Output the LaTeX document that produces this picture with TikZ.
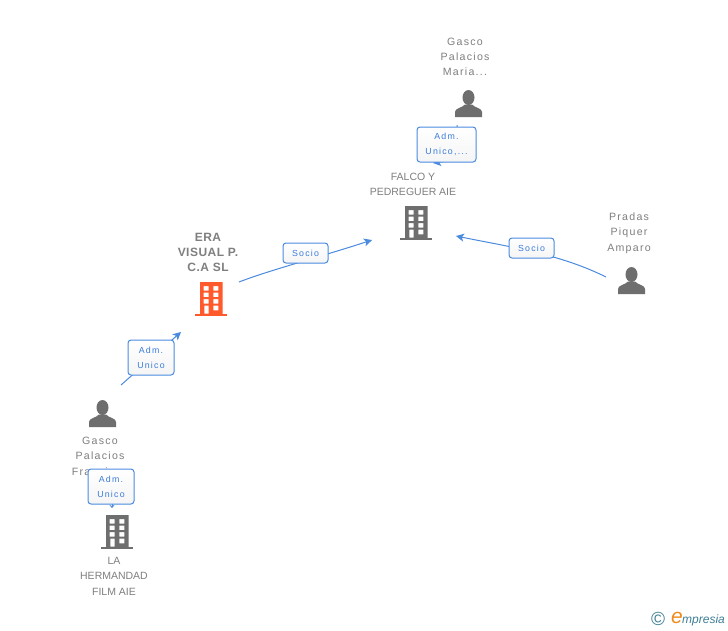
\documentclass[tikz,border=0pt]{standalone}
\usepackage{fontspec}
\setmainfont{Liberation Sans}
\newfontfamily\spacedfont[LetterSpace=12]{Liberation Sans}
\newfontfamily\boxfont[LetterSpace=14]{Liberation Sans}
\newfontfamily\strongfont[LetterSpace=4]{Liberation Sans Bold}
\usetikzlibrary{arrows.meta}
\definecolor{txtgrey}{HTML}{7F7F7F}
\definecolor{icongrey}{HTML}{6E6E6E}
\definecolor{iconorange}{HTML}{FF5A2B}
\definecolor{linkblue}{HTML}{4A8BE0}
\definecolor{labelblue}{HTML}{3A7BDC}
\definecolor{logoteal}{HTML}{3F7F96}
\definecolor{logoorange}{HTML}{F08A1D}
\tikzset{
  x=1pt,y=-1pt,
  nametext/.style={text=txtgrey,align=center,inner sep=0pt,font=\fontsize{10.6}{15.2}\selectfont\spacedfont},
  capstext/.style={text=txtgrey,align=center,inner sep=0pt,font=\fontsize{10.5}{15.2}\selectfont},
  boldtext/.style={text=txtgrey,align=center,inner sep=0pt,font=\fontsize{12}{15.2}\selectfont\strongfont},
  conn/.style={draw=linkblue,line width=1pt,-{Stealth[length=8pt,width=8pt,inset=2pt]}},
  smallconn/.style={draw=linkblue,line width=1pt,-{Stealth[length=3pt,width=5pt]}},
  linkbox/.style={draw=linkblue,line width=1pt,rounded corners=3pt,top color=white,bottom color=white!96!black,
    text=labelblue,align=center,inner sep=0pt,font=\fontsize{8.8}{15}\selectfont\boxfont},
  pics/building/.style={code={
    \fill[#1] (0,31.5) rectangle (32,34);
    \fill[#1,even odd rule] (5,0) rectangle (27.5,32)
      (8.7,4) rectangle (13.7,8.5) (18.3,4) rectangle (23.3,8.5)
      (8.7,10.5) rectangle (13.7,15) (18.3,10.5) rectangle (23.3,15)
      (8.7,17) rectangle (13.7,21.5) (18.3,17) rectangle (23.3,21.5)
      (9.3,23.7) rectangle (13.7,31.5) (18.3,23.7) rectangle (23.3,28.3);
  }},
  pics/person/.style={code={
    \fill[icongrey] (13.5,7.5) ellipse [x radius=6, y radius=7.5];
    \fill[icongrey] (0,27) -- (0,22) .. controls (0,18) and (7,18) .. (10,14.5)
      -- (17,14.5) .. controls (20,18) and (27,18) .. (27,22) -- (27,27) -- cycle;
  }},
}
\begin{document}
\begin{tikzpicture}
\path[use as bounding box,fill=white] (0,0) rectangle (728,630);

% icons
\pic at (455,90) {person};
\pic at (618,267) {person};
\pic at (89,400) {person};
\pic at (400,206) {building=icongrey};
\pic at (195,282) {building=iconorange};
\pic at (101,515) {building=icongrey};

% names
\node[nametext] (maria) at (465,56.7) {Gasco\\Palacios\\Maria...};
\node[capstext] (falco) at (413,184.7) {FALCO Y\\PEDREGUER AIE};
\node[nametext] (pradas) at (629,233.2) {Pradas\\Piquer\\Amparo};
\node[boldtext] (era) at (208,252.7) {ERA\\VISUAL P.\\C.A SL};
\node[nametext] (francisco) at (100,456.2) {Gasco\\Palacios\\Francisco};
\node[capstext] (hermandad) at (114,576.2) {LA\\HERMANDAD\\FILM AIE};

% connector ends
\coordinate (franciscoOut) at (121,385);
\coordinate (eraIn) at (181,332);
\coordinate (eraOut) at (239,282);
\coordinate (falcoInL) at (372,240);
\coordinate (pradasOut) at (606,277);
\coordinate (falcoInR) at (456,236);
\coordinate (mariaOut) at (457,125);
\coordinate (mariaBend) at (457,160);
\coordinate (falcoInT) at (433,163);
\coordinate (franciscoOutB) at (112,480);
\coordinate (hermandadIn) at (112,508);

% connectors
\draw[conn] (franciscoOut) -- (eraIn);
\draw[conn] (eraOut) .. controls (270,270) and (320,257) .. (falcoInL);
\draw[conn] (pradasOut) .. controls (560,254) and (510,247) .. (falcoInR);
\draw[conn] (mariaOut) -- (mariaBend) -- (falcoInT);
\draw[smallconn] (franciscoOutB) -- (hermandadIn);

% link boxes
\node[linkbox,minimum width=46pt,minimum height=35pt] (l1) at (151,357.5) {Adm.\\Unico};
\node[linkbox,minimum width=45pt,minimum height=20pt] (l2) at (305.5,253) {Socio};
\node[linkbox,minimum width=45pt,minimum height=20pt] (l3) at (531.5,248) {Socio};
\node[linkbox,minimum width=59pt,minimum height=35pt] (l4) at (446.5,144.5) {Adm.\\Unico,...};
\node[linkbox,minimum width=46pt,minimum height=35pt] (l5) at (111,486.5) {Adm.\\Unico};

% logo
\node[inner sep=0pt,text=logoteal,font=\fontsize{19}{19}\selectfont] (copyr) at (658,619) {©};
\node[inner sep=0pt,text=logoorange,font=\fontsize{21}{21}\selectfont\itshape] (logoe) at (677,618) {e};
\node[inner sep=0pt,anchor=base west,text=logoteal,font=\fontsize{12}{12}\selectfont\itshape] (logot) at (682,623) {mpresia};
\end{tikzpicture}
\end{document}
